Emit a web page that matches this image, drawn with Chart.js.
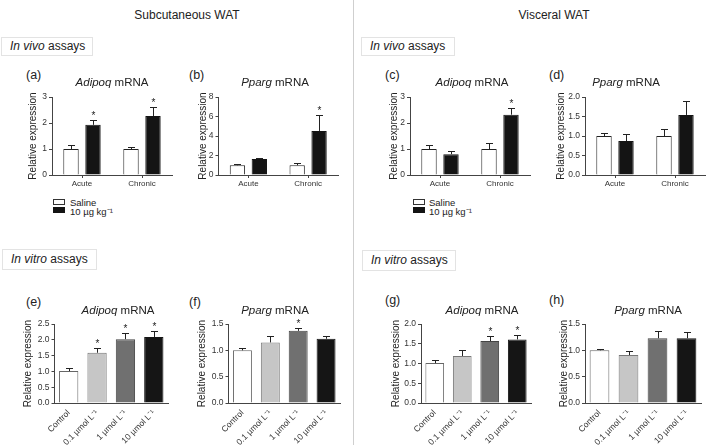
<!DOCTYPE html>
<html>
<head>
<meta charset="utf-8">
<script src="https://cdn.jsdelivr.net/npm/chart.js@4.4.1/dist/chart.umd.min.js"></script>
<style>
body{margin:0;background:#fff;font-family:"Liberation Sans",Arial,sans-serif;color:#222;}
#fig{position:relative;width:709px;height:445px;overflow:hidden;}
.t{position:absolute;white-space:nowrap;transform:translate(-50%,-50%);font-size:11.5px;}
.l{position:absolute;white-space:nowrap;transform:translateY(-50%);}
.box{position:absolute;border:1px solid #e3e3e3;box-sizing:border-box;font-size:12px;padding-left:8px;}
.sw{position:absolute;width:12px;height:6px;box-sizing:border-box;border:1px solid #333;}
canvas{position:absolute;}
#divider{position:absolute;left:353px;top:0;width:1px;height:445px;background:#cfcfcf;}
</style>
</head>
<body>
<div id="fig">
  <div id="divider"></div>
  <div class="t" style="left:187px;top:15px;font-size:12px">Subcutaneous WAT</div>
  <div class="t" style="left:554px;top:15px;font-size:12px">Visceral WAT</div>

  <div class="box" style="left:1px;top:37px;width:92px;height:19px;line-height:17px"><i>In vivo</i> assays</div>
  <div class="box" style="left:361px;top:37px;width:94px;height:19px;line-height:17px"><i>In vivo</i> assays</div>
  <div class="box" style="left:2px;top:249px;width:95px;height:21px;line-height:19px"><i>In vitro</i> assays</div>
  <div class="box" style="left:362px;top:250px;width:94px;height:21px;line-height:19px"><i>In vitro</i> assays</div>

  <div class="l" style="left:26px;top:75px;font-size:12.5px">(a)</div>
  <div class="l" style="left:189px;top:75px;font-size:12.5px">(b)</div>
  <div class="l" style="left:385px;top:75px;font-size:12.5px">(c)</div>
  <div class="l" style="left:549px;top:75px;font-size:12.5px">(d)</div>
  <div class="l" style="left:26px;top:302px;font-size:12.5px">(e)</div>
  <div class="l" style="left:189px;top:302px;font-size:12.5px">(f)</div>
  <div class="l" style="left:385px;top:300px;font-size:12.5px">(g)</div>
  <div class="l" style="left:549px;top:300px;font-size:12.5px">(h)</div>

  <div class="t" style="left:112px;top:82px"><i>Adipoq</i> mRNA</div>
  <div class="t" style="left:275px;top:82px"><i>Pparg</i> mRNA</div>
  <div class="t" style="left:472px;top:82px"><i>Adipoq</i> mRNA</div>
  <div class="t" style="left:626px;top:82px"><i>Pparg</i> mRNA</div>
  <div class="t" style="left:118px;top:310px"><i>Adipoq</i> mRNA</div>
  <div class="t" style="left:275px;top:310px"><i>Pparg</i> mRNA</div>
  <div class="t" style="left:482px;top:310px"><i>Adipoq</i> mRNA</div>
  <div class="t" style="left:648px;top:310px"><i>Pparg</i> mRNA</div>

  <div class="sw" style="left:53px;top:199px;background:#fff"></div>
  <div class="sw" style="left:53px;top:207px;background:#141414;border-color:#141414"></div>
  <div class="l" style="left:70px;top:202px;font-size:9.5px">Saline</div>
  <div class="l" style="left:70px;top:211px;font-size:9.5px">10 µg kg⁻¹</div>
  <div class="sw" style="left:413px;top:199px;background:#fff"></div>
  <div class="sw" style="left:413px;top:207px;background:#141414;border-color:#141414"></div>
  <div class="l" style="left:429px;top:202px;font-size:9.5px">Saline</div>
  <div class="l" style="left:429px;top:211px;font-size:9.5px">10 µg kg⁻¹</div>
</div>
<script>
// categories
var vivoGroups = ['Acute', 'Chronic'];
var vitroDoses = ['Control', '0.1 µmol L⁻¹', '1 µmol L⁻¹', '10 µmol L⁻¹'];

// (a) subcutaneous, Adipoq, in vivo
var aSaline = [1.00, 1.00];
var aSalineSem = [0.16, 0.08];
var aDose = [1.93, 2.27];
var aDoseSem = [0.18, 0.36];
var aDoseStar = [true, true];
// (b) subcutaneous, Pparg, in vivo
var bSaline = [1.00, 1.00];
var bSalineSem = [0.15, 0.24];
var bDose = [1.65, 4.52];
var bDoseSem = [0.08, 1.62];
var bDoseStar = [false, true];
// (c) visceral, Adipoq, in vivo
var cSaline = [1.00, 1.00];
var cSalineSem = [0.16, 0.22];
var cDose = [0.80, 2.32];
var cDoseSem = [0.11, 0.27];
var cDoseStar = [false, true];
// (d) visceral, Pparg, in vivo
var dSaline = [1.00, 1.00];
var dSalineSem = [0.08, 0.18];
var dDose = [0.87, 1.54];
var dDoseSem = [0.17, 0.36];
var dDoseStar = [false, false];

// (e) subcutaneous, Adipoq, in vitro
var eValues = [1.01, 1.59, 2.02, 2.09];
var eSem = [0.09, 0.16, 0.21, 0.18];
var eStar = [false, true, true, true];
// (f) subcutaneous, Pparg, in vitro
var fValues = [1.00, 1.15, 1.37, 1.22];
var fSem = [0.05, 0.13, 0.05, 0.06];
var fStar = [false, false, true, false];
// (g) visceral, Adipoq, in vitro
var gValues = [1.01, 1.19, 1.57, 1.61];
var gSem = [0.08, 0.15, 0.12, 0.10];
var gStar = [false, false, true, true];
// (h) visceral, Pparg, in vitro
var hValues = [1.00, 0.91, 1.23, 1.23];
var hSem = [0.03, 0.07, 0.13, 0.11];
var hStar = [false, false, false, false];

// y axis ranges
var vivoMax = [3, 8, 3, 2];
var vivoStep = [1, 2, 1, 0.5];
var vitroMax = [2.5, 1.5, 2, 1.5];
var vitroStep = [0.5, 0.5, 0.5, 0.5];

Chart.defaults.font.family = '"Liberation Sans", Arial, sans-serif';
Chart.defaults.color = '#333';

var errorBars = {
    id: 'errorBars',
    afterDatasetsDraw: function(chart){
        var ctx = chart.ctx;
        var y = chart.scales.y;
        ctx.save();
        ctx.strokeStyle = '#222';
        ctx.fillStyle = '#222';
        ctx.lineWidth = 1;
        ctx.font = '10px "Liberation Sans", Arial, sans-serif';
        ctx.textAlign = 'center';
        chart.data.datasets.forEach(function(ds, i){
            var meta = chart.getDatasetMeta(i);
            meta.data.forEach(function(bar, j){
                var top = Math.round(y.getPixelForValue(ds.data[j] + ds.sem[j])) + 0.5;
                var x = Math.round(bar.x) + 0.5;
                ctx.beginPath();
                ctx.moveTo(x, bar.y);
                ctx.lineTo(x, top);
                ctx.moveTo(x - 3.5, top);
                ctx.lineTo(x + 3.5, top);
                ctx.stroke();
                if(ds.star[j]){
                    ctx.fillText('*', x, top - 2);
                }
            });
        });
        ctx.restore();
    }
};

var fig = document.getElementById('fig');

function panel(p){
    var yW = p.titleGap + 6;
    var padTop = 14;
    var c = document.createElement('canvas');
    c.width = yW + p.plotW + 4;
    c.height = padTop + p.plotH + p.xH;
    c.style.left = (p.left - yW) + 'px';
    c.style.top = (p.top - padTop) + 'px';
    fig.insertBefore(c, fig.firstChild);
    var fmt = p.step < 1 ? function(v){ return v.toFixed(1); } : function(v){ return v; };
    new Chart(c, {
        type: 'bar',
        data: {labels: p.labels, datasets: p.datasets},
        options: {
            responsive: false,
            animation: false,
            layout: {padding: {top: padTop, right: 4, left: 0, bottom: 0}},
            plugins: {legend: {display: false}, tooltip: {enabled: false}},
            scales: {
                x: {
                    offset: true,
                    grid: {display: p.rot == 0, drawOnChartArea: false, offset: false, tickLength: 3, color: '#444'},
                    border: {color: '#444', width: 1},
                    ticks: {font: {size: p.rot == 0 ? 8 : 8.5}, padding: p.rot == 0 ? 1 : 2, autoSkip: false, minRotation: p.rot, maxRotation: p.rot, color: '#333'},
                    afterFit: function(s){ s.height = p.xH; }
                },
                y: {
                    min: 0,
                    max: p.yMax,
                    ticks: {stepSize: p.step, font: {size: 8.5}, padding: 2, callback: fmt, color: '#333'},
                    grid: {drawOnChartArea: false, tickLength: 3, color: '#444'},
                    border: {color: '#444', width: 1},
                    title: {display: true, text: 'Relative expression', font: {size: 10}, padding: 0, color: '#222'},
                    afterFit: function(s){ s.width = yW; }
                }
            }
        },
        plugins: [errorBars]
    });
}

function vivoSets(sal, salSem, dose, doseSem, star){
    return [
        {label: 'Saline', data: sal, sem: salSem, star: [false, false],
         backgroundColor: '#ffffff', borderColor: '#222', borderWidth: 1,
         categoryPercentage: 0.733, barPercentage: 0.7},
        {label: '10 µg kg⁻¹', data: dose, sem: doseSem, star: star,
         backgroundColor: '#141414', borderColor: '#141414', borderWidth: 1,
         categoryPercentage: 0.733, barPercentage: 0.7}
    ];
}

function vitroSets(vals, sem, star){
    return [{
        label: 'mRNA', data: vals, sem: sem, star: star,
        backgroundColor: ['#ffffff', '#c6c6c6', '#707070', '#151515'],
        borderColor: ['#666', '#777', '#444', '#151515'],
        borderWidth: 1, categoryPercentage: 1, barPercentage: 0.68
    }];
}

panel({left: 52, top: 97, plotW: 120, plotH: 78, xH: 16, titleGap: 19, rot: 0,
       labels: vivoGroups, yMax: vivoMax[0], step: vivoStep[0],
       datasets: vivoSets(aSaline, aSalineSem, aDose, aDoseSem, aDoseStar)});
panel({left: 218, top: 97, plotW: 120, plotH: 78, xH: 16, titleGap: 15.5, rot: 0,
       labels: vivoGroups, yMax: vivoMax[1], step: vivoStep[1],
       datasets: vivoSets(bSaline, bSalineSem, bDose, bDoseSem, bDoseStar)});
panel({left: 410, top: 97, plotW: 120, plotH: 78, xH: 16, titleGap: 16, rot: 0,
       labels: vivoGroups, yMax: vivoMax[2], step: vivoStep[2],
       datasets: vivoSets(cSaline, cSalineSem, cDose, cDoseSem, cDoseStar)});
panel({left: 585, top: 97, plotW: 120, plotH: 78, xH: 16, titleGap: 24, rot: 0,
       labels: vivoGroups, yMax: vivoMax[3], step: vivoStep[3],
       datasets: vivoSets(dSaline, dSalineSem, dDose, dDoseSem, dDoseStar)});

panel({left: 54, top: 324, plotW: 114, plotH: 79, xH: 42, titleGap: 26.5, rot: 45,
       labels: vitroDoses, yMax: vitroMax[0], step: vitroStep[0],
       datasets: vitroSets(eValues, eSem, eStar)});
panel({left: 228, top: 324, plotW: 112, plotH: 79, xH: 42, titleGap: 26.5, rot: 45,
       labels: vitroDoses, yMax: vitroMax[1], step: vitroStep[1],
       datasets: vitroSets(fValues, fSem, fStar)});
panel({left: 421, top: 324, plotW: 110, plotH: 79, xH: 42, titleGap: 25, rot: 45,
       labels: vitroDoses, yMax: vitroMax[2], step: vitroStep[2],
       datasets: vitroSets(gValues, gSem, gStar)});
panel({left: 585, top: 324, plotW: 116, plotH: 79, xH: 42, titleGap: 21, rot: 45,
       labels: vitroDoses, yMax: vitroMax[3], step: vitroStep[3],
       datasets: vitroSets(hValues, hSem, hStar)});
</script>
</body>
</html>
